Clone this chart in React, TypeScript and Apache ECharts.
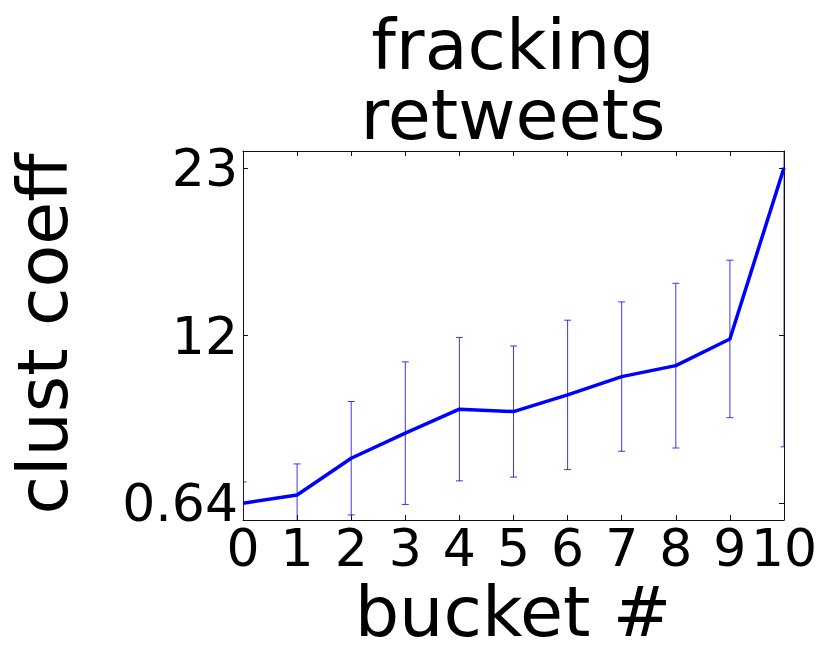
import React, { useEffect, useRef } from "react";
import * as echarts from "echarts";

const buckets = [0, 1, 2, 3, 4, 5, 6, 7, 8, 9, 10];
const clustCoeff = [0.64, 1.19, 3.64, 5.31, 6.91, 6.75, 7.86, 9.08, 9.81, 11.59, 23.0];
const stdErr = [1.42, 2.07, 3.78, 4.75, 4.78, 4.37, 4.98, 4.98, 5.49, 5.25, 18.6];
const yTickValues = [0.64, 11.82, 23];
const yTickLabels = ["0.64", "12", "23"];
const xTickLabels = ["0", "1", "2", "3", "4", "5", "6", "7", "8", "9", "10"];
const titleLines = ["fracking", "retweets"];
const xName = "bucket #";
const yName = "clust coeff";

const FONT = "DejaVu Sans";

export default function App() {
  const ref = useRef<HTMLDivElement>(null);
  useEffect(() => {
    if (!ref.current) return;
    const chart = echarts.init(ref.current, undefined, { renderer: "svg" });
    const yMin = -0.478;
    const yMax = 24.118;
    const axisLine = { show: true, onZero: false, lineStyle: { color: "#111", width: 1 } };
    const tick = { show: true, inside: true, length: 5, lineStyle: { color: "#111", width: 1 } };
    const errColor = "rgba(20,20,255,0.85)";
    chart.setOption({
      animation: false,
      grid: { left: 243, top: 151, width: 541, height: 369, containLabel: false },
      graphic: [
        { type: "text", x: 513, y: 45, style: { text: titleLines[0], font: `70px "${FONT}"`, fill: "#000", align: "center", verticalAlign: "middle" } },
        { type: "text", x: 513, y: 115, style: { text: titleLines[1], font: `70px "${FONT}"`, fill: "#000", align: "center", verticalAlign: "middle" } },
        { type: "text", x: 513, y: 612, style: { text: xName, font: `70px "${FONT}"`, fill: "#000", align: "center", verticalAlign: "middle" } },
        { type: "text", x: 43, y: 334, rotation: Math.PI / 2, style: { text: yName, font: `70px "${FONT}"`, fill: "#000", align: "center", verticalAlign: "middle" } },
      ],
      xAxis: [
        {
          type: "value",
          min: 0,
          max: 10,
          interval: 1,
          position: "bottom",
          axisLine,
          axisTick: tick,
          splitLine: { show: false },
          axisLabel: {
            show: true,
            margin: 2,
            fontSize: 52,
            fontFamily: FONT,
            color: "#000",
            showMinLabel: true,
            showMaxLabel: true,
            formatter: (v: number) => xTickLabels[Math.round(v)] ?? String(v),
          },
        },
        {
          type: "value",
          min: 0,
          max: 10,
          interval: 1,
          position: "top",
          axisLine,
          axisTick: tick,
          splitLine: { show: false },
          axisLabel: { show: false },
        },
      ],
      yAxis: [
        {
          type: "value",
          min: yMin,
          max: yMax,
          position: "left",
          axisLine,
          axisTick: { ...tick, customValues: yTickValues },
          splitLine: { show: false },
          axisLabel: {
            show: true,
            customValues: yTickValues,
            margin: 5,
            fontSize: 52,
            fontFamily: FONT,
            color: "#000",
            formatter: (v: number) => {
              let best = 0;
              for (let i = 0; i < yTickValues.length; i++) {
                if (Math.abs(yTickValues[i] - v) < Math.abs(yTickValues[best] - v)) best = i;
              }
              return yTickLabels[best];
            },
          },
        },
        {
          type: "value",
          min: yMin,
          max: yMax,
          position: "right",
          axisLine,
          axisTick: { ...tick, customValues: yTickValues },
          splitLine: { show: false },
          axisLabel: { show: false, customValues: yTickValues },
        },
      ],
      series: [
        {
          type: "custom",
          xAxisIndex: 0,
          yAxisIndex: 0,
          z: 2,
          clip: true,
          data: buckets.map((b, i) => [b, clustCoeff[i], stdErr[i]]),
          encode: { x: 0, y: 1 },
          renderItem: (params: any, api: any) => {
            const x = api.value(0);
            const v = api.value(1);
            const e = api.value(2);
            const top = api.coord([x, v + e]);
            const bot = api.coord([x, v - e]);
            const cs = params.coordSys;
            const clampY = (y: number) => Math.max(cs.y, Math.min(cs.y + cs.height, y));
            const style = { stroke: errColor, lineWidth: 1 };
            const children: any[] = [
              { type: "line", shape: { x1: top[0], y1: clampY(top[1]), x2: top[0], y2: clampY(bot[1]) }, style },
            ];
            const cap = 3.5;
            for (const p of [top, bot]) {
              if (p[1] >= cs.y && p[1] <= cs.y + cs.height) {
                const x1 = Math.max(cs.x, p[0] - cap);
                const x2 = Math.min(cs.x + cs.width, p[0] + cap);
                children.push({ type: "line", shape: { x1, y1: p[1], x2, y2: p[1] }, style });
              }
            }
            return { type: "group", children };
          },
        },
        {
          type: "line",
          xAxisIndex: 0,
          yAxisIndex: 0,
          z: 3,
          data: buckets.map((b, i) => [b, clustCoeff[i]]),
          showSymbol: false,
          symbol: "none",
          lineStyle: { color: "#0000ff", width: 3.5 },
          itemStyle: { color: "#0000ff" },
        },
      ],
    });
    return () => chart.dispose();
  }, []);
  return <div ref={ref} style={{ position: "fixed", left: 0, top: 0, width: 830, height: 664, background: "#fff" }} />;
}
